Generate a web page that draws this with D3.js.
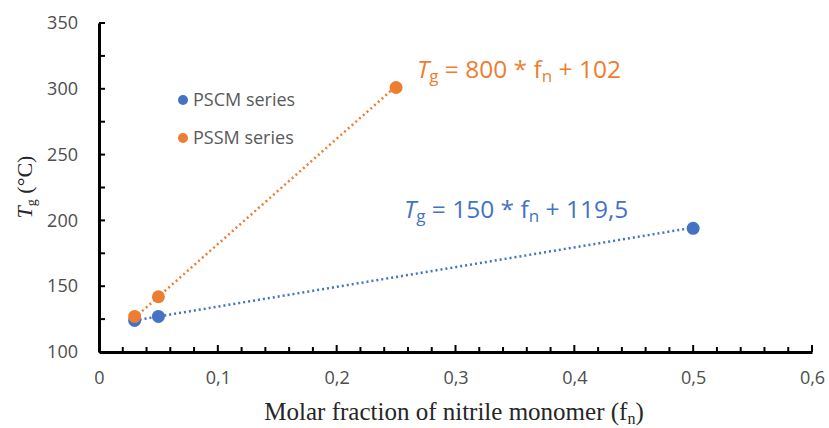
<!DOCTYPE html>
<html>
<head>
<meta charset="utf-8">
<script src="https://cdn.jsdelivr.net/npm/d3@7"></script>
<style>
  body { margin: 0; background: #fff; }
  svg text { font-family: "Open Sans", "Noto Sans", sans-serif; }
</style>
</head>
<body>
<svg id="chart" width="829" height="428"></svg>
<script>
// PSCM series
const pscmX = [0.03, 0.05, 0.5];
const pscmY = [124, 127, 194];
// PSSM series
const pssmX = [0.03, 0.05, 0.25];
const pssmY = [127, 142, 301];
// linear fits: [slope, intercept]
const pscmFit = [150, 119.5];
const pssmFit = [800, 102];

const xTicks = [0, 0.1, 0.2, 0.3, 0.4, 0.5, 0.6];
const yTicks = [100, 150, 200, 250, 300, 350];
const seriesNames = ['PSCM series', 'PSSM series'];

const blue = '#4472C4';
const orange = '#ED7D31';

const svg = d3.select('#chart');
const x = d3.scaleLinear().domain([0, 0.6]).range([99, 812]);
const y = d3.scaleLinear().domain([100, 350]).range([352, 23]);

// minor ticks on x (every 0.02), pointing inward
const xMinor = d3.range(0, 0.6001, 0.02);
svg.append('g')
    .selectAll('line')
    .data(xMinor)
    .enter().append('line')
    .attr('x1', d => x(d)).attr('x2', d => x(d))
    .attr('y1', y(100)).attr('y2', (d, i) => y(100) - (i % 5 === 0 ? 7 : 5))
    .attr('stroke', '#000').attr('stroke-width', 2);

// y ticks every 25, pointing inward
const yMinor = d3.range(100, 350.01, 25);
svg.append('g')
    .selectAll('line')
    .data(yMinor)
    .enter().append('line')
    .attr('x1', x(0)).attr('x2', x(0) + 6)
    .attr('y1', d => y(d)).attr('y2', d => y(d))
    .attr('stroke', '#000').attr('stroke-width', 2);

// axes (labels + domain line)
const xAxis = svg.append('g')
    .attr('transform', `translate(0,${y(100)})`)
    .call(d3.axisBottom(x).tickValues(xTicks).tickSize(0).tickPadding(19)
        .tickFormat(d => d3.format('.1~f')(d).replace('.', ',')));
xAxis.select('.domain').attr('stroke', '#000').attr('stroke-width', 3);
xAxis.selectAll('text').attr('font-size', 18).attr('fill', '#4d4d4d');

const yAxis = svg.append('g')
    .attr('transform', `translate(${x(0)},0)`)
    .call(d3.axisLeft(y).tickValues(yTicks).tickSize(0).tickPadding(21));
yAxis.select('.domain').attr('stroke', '#000').attr('stroke-width', 3);
yAxis.selectAll('text').attr('font-size', 18).attr('fill', '#4d4d4d');

// trend lines over each series' x range
function trend(xs, fit, color) {
    const ext = d3.extent(xs);
    svg.append('line')
        .attr('x1', x(ext[0])).attr('y1', y(fit[0] * ext[0] + fit[1]))
        .attr('x2', x(ext[1])).attr('y2', y(fit[0] * ext[1] + fit[1]))
        .attr('stroke', color).attr('stroke-width', 2.5)
        .attr('stroke-dasharray', '2,3');
}
trend(pscmX, pscmFit, blue);
trend(pssmX, pssmFit, orange);

// points
function dots(xs, ys, color) {
    svg.append('g')
        .selectAll('circle')
        .data(xs.map((d, i) => [d, ys[i]]))
        .enter().append('circle')
        .attr('cx', d => x(d[0])).attr('cy', d => y(d[1]))
        .attr('r', 6.5).attr('fill', color);
}
dots(pscmX, pscmY, blue);
dots(pssmX, pssmY, orange);

// legend
[blue, orange].forEach((c, i) => {
    const ly = 100 + i * 38;
    svg.append('circle').attr('cx', 183).attr('cy', ly).attr('r', 5).attr('fill', c);
    svg.append('text').attr('x', 193).attr('y', ly + 6)
        .attr('font-size', 18).attr('fill', '#595959').text(seriesNames[i]);
});

// equations
function equation(xp, yp, fit, color) {
    const t = svg.append('text').attr('x', xp).attr('y', yp)
        .attr('font-size', 24.5).attr('fill', color);
    t.append('tspan').attr('font-style', 'italic').text('T');
    t.append('tspan').attr('font-size', 17).attr('dy', 4).text('g');
    t.append('tspan').attr('dy', -4).text(` = ${fit[0]} * f`);
    t.append('tspan').attr('font-size', 17).attr('dy', 4).text('n');
    t.append('tspan').attr('dy', -4).text(` + ${String(fit[1]).replace('.', ',')}`);
}
equation(417, 78, pssmFit, orange);
equation(404, 218, pscmFit, blue);

// axis titles
const xt = svg.append('text').attr('x', 454).attr('y', 420).attr('text-anchor', 'middle')
    .style('font-family', '"Liberation Serif", "Times New Roman", serif')
    .attr('font-size', 25).attr('fill', '#262626');
xt.append('tspan').text('Molar fraction of nitrile monomer (f');
xt.append('tspan').attr('font-size', 16).attr('dy', 4).text('n');
xt.append('tspan').attr('dy', -4).text(')');

const yt = svg.append('text')
    .attr('transform', 'translate(32,187) rotate(-90)')
    .attr('text-anchor', 'middle')
    .style('font-family', '"Liberation Serif", "Times New Roman", serif')
    .attr('font-size', 22).attr('fill', '#262626');
yt.append('tspan').attr('font-style', 'italic').text('T');
yt.append('tspan').attr('font-size', 14).attr('dy', 4).text('g');
yt.append('tspan').attr('dy', -4).text(' (°C)');
</script>
</body>
</html>
